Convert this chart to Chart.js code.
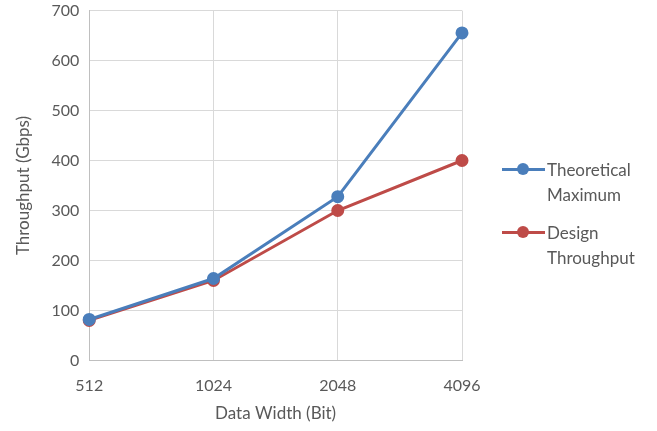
<!DOCTYPE html>
<html>
<head>
<meta charset="utf-8">
<script src="https://cdn.jsdelivr.net/npm/chart.js@4.4.0/dist/chart.umd.min.js"></script>
<style>
    html, body { margin: 0; padding: 0; background: #fff; overflow: hidden; }
    .wrap { position: relative; width: 657px; height: 431px; overflow: hidden; }
    #chart { position: absolute; left: 0; top: -9px; }
    .legend { position: absolute; left: 500px; top: 157px; font-family: Lato, "Open Sans", sans-serif; font-size: 17px; color: #595959; }
    .legend .item { display: flex; align-items: flex-start; margin-bottom: 13px; line-height: 25px; }
    .legend .swatch { position: relative; width: 47px; height: 25px; flex: none; }
    .legend .swatch .ln { position: absolute; left: 2px; right: 2px; top: 11px; height: 3px; }
    .legend .swatch .dot { position: absolute; left: 17px; top: 6px; width: 12px; height: 12px; border-radius: 50%; }
</style>
</head>
<body>
<div class="wrap">
    <canvas id="chart" width="657" height="440"></canvas>
    <div class="legend" id="legend"></div>
</div>
<script>
    // Chart data
    const widths = ['512', '1024', '2048', '4096'];
    const theoreticalMax = [81.92, 163.84, 327.68, 655.36];
    const designThroughput = [80, 160, 300, 400];
    const seriesNames = [['Theoretical', 'Maximum'], ['Design', 'Throughput']];
    const seriesColors = ['#4A7EBB', '#BE4B48'];

    const font = { family: 'Lato, "Open Sans", sans-serif', size: 16 };

    const ctx = document.getElementById('chart');
    new Chart(ctx, {
        type: 'line',
        data: {
            labels: widths,
            datasets: [
                { label: seriesNames[0].join(' '), data: theoreticalMax },
                { label: seriesNames[1].join(' '), data: designThroughput }
            ].map((ds, i) => Object.assign(ds, {
                borderColor: seriesColors[i],
                backgroundColor: seriesColors[i],
                borderWidth: 3,
                pointRadius: 5,
                pointHoverRadius: 5,
                tension: 0
            }))
        },
        options: {
            responsive: false,
            animation: false,
            layout: { padding: { left: 9, right: 195, top: 0, bottom: 3 } },
            plugins: { legend: { display: false }, tooltip: { enabled: false } },
            scales: {
                x: {
                    offset: false,
                    grid: { color: '#D9D9D9', drawTicks: false },
                    border: { color: '#BFBFBF' },
                    ticks: { color: '#595959', font: font, padding: 16 },
                    title: { display: true, text: 'Data Width (Bit)', color: '#595959', font: { family: font.family, size: 17 }, padding: { top: -8 } }
                },
                y: {
                    min: 0,
                    max: 700,
                    grid: { color: '#D9D9D9', drawTicks: false },
                    border: { color: '#BFBFBF' },
                    ticks: { stepSize: 100, color: '#595959', font: font, padding: 10 },
                    title: { display: true, text: 'Throughput (Gbps)', color: '#595959', font: { family: font.family, size: 17 }, padding: { bottom: 8 } }
                }
            }
        }
    });

    // HTML legend on the right
    const legend = document.getElementById('legend');
    seriesNames.forEach((lines, i) => {
        const item = document.createElement('div');
        item.className = 'item';
        item.innerHTML = `
            <div class="swatch">
                <div class="ln" style="background:${seriesColors[i]}"></div>
                <div class="dot" style="background:${seriesColors[i]}"></div>
            </div>
            <div>${lines.join('<br>')}</div>
        `;
        legend.appendChild(item);
    });
</script>
</body>
</html>
